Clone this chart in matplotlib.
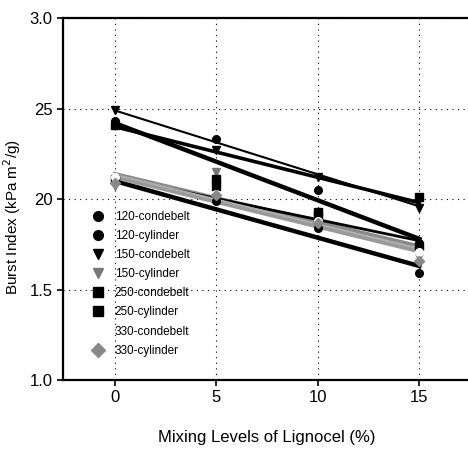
import matplotlib
matplotlib.use("Agg")
import matplotlib.pyplot as plt
from matplotlib import font_manager

# Burst index vs. mixing level of Lignocel, 8 pulp/press combinations
mixing = [0, 5, 10, 15]
series = [
    "120-condebelt", "120-cylinder", "150-condebelt", "150-cylinder",
    "250-condebelt", "250-cylinder", "330-condebelt", "330-cylinder",
]
burst = [
    [2.43, 2.33, 2.05, 1.76],
    [2.10, 1.99, 1.84, 1.59],
    [2.49, 2.27, 2.12, 1.95],
    [2.07, 2.15, 1.90, 1.68],
    [2.41, 2.11, 1.93, 2.01],
    [2.11, 2.07, 1.91, 1.74],
    [2.12, 2.03, 1.88, 1.71],
    [2.09, 2.02, 1.87, 1.66],
]
# linear trend lines: value at 0 % and at 15 %
trend_start = [2.42, 2.10, 2.49, 2.14, 2.40, 2.12, 2.13, 2.12]
trend_end = [1.78, 1.63, 1.96, 1.74, 1.98, 1.77, 1.72, 1.71]

yticks = [1.0, 1.5, 2.0, 2.5, 3.0]
ytick_labels = ["1.0", "1.5", "20", "25", "3.0"]
xticks = [0, 5, 10, 15]

markers = ["o", "o", "v", "v", "s", "s", "o", "D"]
mcolors = ["black", "black", "black", "#777777", "black", "black", "white", "#888888"]
lcolors = ["black", "black", "black", "#8a8a8a", "black", "black", "#b0b0b0", "#9a9a9a"]
lwidths = [3.2, 3.2, 1.5, 2.6, 2.6, 2.0, 2.6, 2.6]

names = [f.name for f in font_manager.fontManager.ttflist]
narrow = "Liberation Sans Narrow" if "Liberation Sans Narrow" in names else "Liberation Sans"
plt.rcParams["font.family"] = [narrow, "DejaVu Sans"]

fig = plt.figure(figsize=(4.68, 4.53), dpi=100)
ax = fig.add_axes([0.1346, 0.161, 0.87, 0.799])

for i, name in enumerate(series):
    ax.plot([mixing[0], mixing[-1]], [trend_start[i], trend_end[i]],
            color=lcolors[i], lw=lwidths[i], zorder=2)
for i, name in enumerate(series):
    ax.plot(mixing, burst[i], linestyle="none", marker=markers[i],
            markersize=5.5, color=mcolors[i], markeredgecolor=mcolors[i],
            label=name, zorder=3)

ax.set_xlim(-2.55, 17.5)
ax.set_ylim(1.0, 3.0)
ax.set_xticks(xticks)
ax.set_yticks(yticks)
ax.set_yticklabels(ytick_labels)
ax.tick_params(axis="both", labelsize=12, length=4, width=1.2, direction="out")
ax.grid(True, color="black", linestyle=(0, (1, 4)), lw=0.8)
ax.set_axisbelow(True)

for s in ["left", "top", "bottom"]:
    ax.spines[s].set_linewidth(1.6)
ax.spines["right"].set_visible(False)

ax.set_xlabel("Mixing Levels of Lignocel (%)", fontsize=12, labelpad=18)
ax.set_ylabel("Burst Index (kPa m$^2$/g)", fontsize=11, labelpad=4)
ax.yaxis.set_label_coords(-0.098, 0.45)

leg = ax.legend(loc="upper left", bbox_to_anchor=(0.06, 0.48), frameon=False,
                fontsize=8.5, handletextpad=0.9, labelspacing=0.6,
                handlelength=1.0, borderaxespad=0)
for h in leg.legend_handles:
    h.set_markersize(7)

fig.savefig("out.png", dpi=100)
